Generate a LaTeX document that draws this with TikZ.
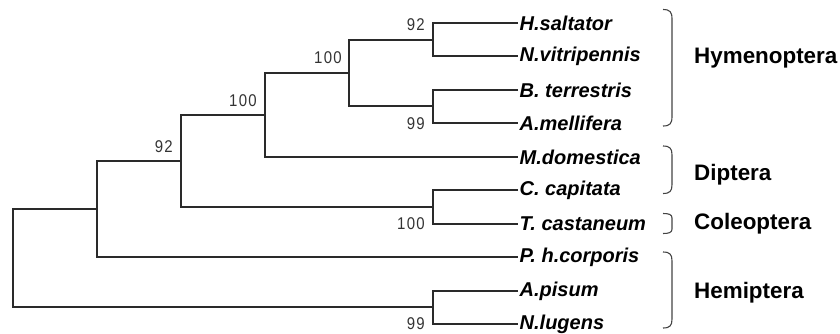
\documentclass[tikz,border=0pt]{standalone}
\usepackage{fontspec}
\setmainfont{Liberation Sans}
\newfontfamily\bsfont[FakeStretch=0.88,LetterSpace=8]{Liberation Sans}
\usetikzlibrary{calc}
\definecolor{treecol}{HTML}{2A2A2A}
\definecolor{bscol}{HTML}{333333}
\definecolor{bracecol}{HTML}{444444}
\tikzset{
  branch/.style={draw=treecol, line width=1.6pt},
  taxon/.style={anchor=west, inner sep=1.5pt, font=\fontsize{20}{20}\selectfont\bfseries\itshape, text=black},
  bs/.style={anchor=east, inner sep=0pt, font=\bsfont\fontsize{17}{17}\selectfont, text=bscol},
  grp/.style={anchor=west, inner sep=0pt, font=\fontsize{22.4}{22}\selectfont\bfseries, text=black},
  brace/.style={draw=bracecol, line width=1.1pt}
}
\begin{document}
\begin{tikzpicture}[x=1pt,y=-1pt]
\useasboundingbox (0,0) rectangle (840,333);
% taxa
\node[taxon] (tH) at (518,23) {H.saltator};
\node[taxon] (tN) at (518,56) {N.vitripennis};
\node[taxon] (tB) at (518,90) {B. terrestris};
\node[taxon] (tA) at (518,123) {A.mellifera};
\node[taxon] (tM) at (518,157) {M.domestica};
\node[taxon] (tC) at (518,190) {C. capitata};
\node[taxon] (tT) at (518,224) {T. castaneum};
\node[taxon] (tP) at (518,257) {P. h.corporis};
\node[taxon] (tAp) at (518,291) {A.pisum};
\node[taxon] (tNl) at (518,324) {N.lugens};
% internal nodes
\coordinate (nHN) at (433,40);
\coordinate (nBA) at (433,106);
\coordinate (nHym) at (349,73);
\coordinate (nM) at (265,115);
\coordinate (nCT) at (433,207);
\coordinate (nI) at (181,161);
\coordinate (nII) at (97,209);
\coordinate (nAN) at (433,307);
\coordinate (root) at (13,258);
% branches
\draw[branch] (tH.west) -| (nHN) |- (tN.west);
\draw[branch] (tB.west) -| (nBA) |- (tA.west);
\draw[branch] (nHN) -| (nHym) |- (nBA);
\draw[branch] (nHym) -| (nM) |- (tM.west);
\draw[branch] (tC.west) -| (nCT) |- (tT.west);
\draw[branch] (nM) -| (nI) |- (nCT);
\draw[branch] (nI) -| (nII) |- (tP.west);
\draw[branch] (tAp.west) -| (nAN) |- (tNl.west);
\draw[branch] (nII) -| (root) |- (nAN);
% bootstrap values
\node[bs] (b1) at (425,25) {92};
\node[bs] (b2) at (425,124) {99};
\node[bs] (b3) at (342,58) {100};
\node[bs] (b4) at (257,100.5) {100};
\node[bs] (b5) at (173,146.5) {92};
\node[bs] (b6) at (425,224) {100};
\node[bs] (b7) at (425,324) {99};
% braces
\draw[brace] (663,9.5) .. controls (670,9.5) and (672,12) .. (672,19) -- (672,116.5) .. controls (672,123.5) and (670,126) .. (663,126);
\draw[brace] (663,146) .. controls (670,146) and (672,148.5) .. (672,155) -- (672,184.5) .. controls (672,191) and (670,193.5) .. (663,193.5);
\draw[brace] (663,213.5) .. controls (669,213.5) and (672,214.5) .. (672,218) -- (672,229) .. controls (672,232.5) and (669,233.5) .. (663,233.5);
\draw[brace] (663,252) .. controls (670,252) and (672,254.5) .. (672,261) -- (672,319) .. controls (672,325.5) and (670,328) .. (663,328);
% group labels
\node[grp] (gH) at (694,58.5) {Hymenoptera};
\node[grp] (gD) at (694,175) {Diptera};
\node[grp] (gC) at (694,223.5) {Coleoptera};
\node[grp] (gHe) at (694,292.5) {Hemiptera};
\end{tikzpicture}
\end{document}
